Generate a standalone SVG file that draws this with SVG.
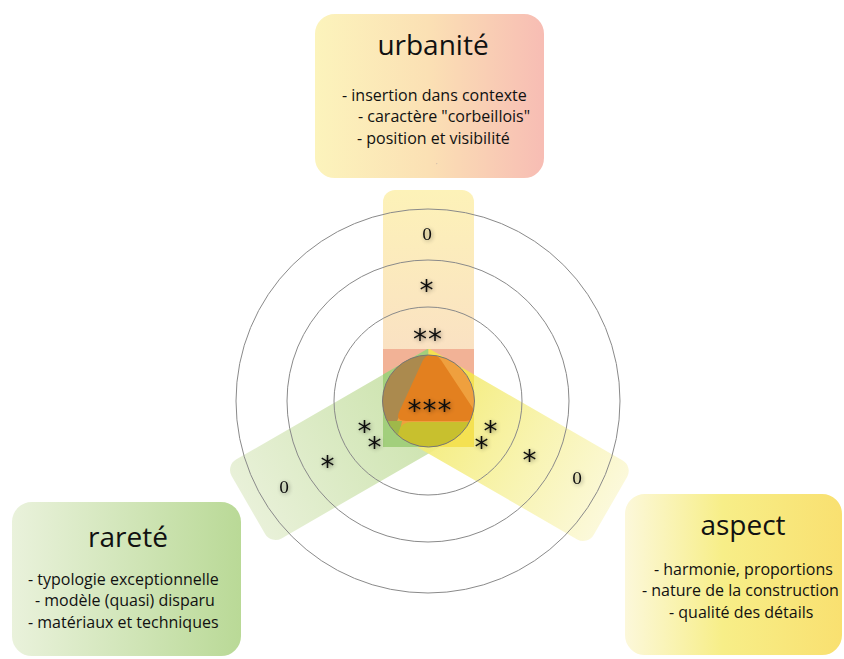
<svg xmlns="http://www.w3.org/2000/svg" width="844" height="659" viewBox="0 0 844 659">
<style>
.ring{fill:none;stroke:#8a8a8a;stroke-width:1}
.rate{font-family:"DejaVu Serif",serif;font-size:16px;fill:#111;text-anchor:middle;filter:url(#sh)}
.ast{font-family:"DejaVu Sans",sans-serif;font-size:28px;fill:#111;text-anchor:middle;letter-spacing:1px;filter:url(#sh)}
.title{font-family:"Open Sans",sans-serif;font-size:28px;fill:#111;text-anchor:middle}
.body{font-family:"Open Sans",sans-serif;font-size:16px;fill:#111}
.box{stroke:#fff;stroke-width:4}
</style>
<defs>
<filter id="sh" x="-50%" y="-50%" width="200%" height="200%">
<feGaussianBlur in="SourceAlpha" stdDeviation="2" result="b"/>
<feOffset dx="1" dy="1" result="o"/>
<feComponentTransfer in="o" result="s"><feFuncA type="linear" slope="0.45"/></feComponentTransfer>
<feMerge><feMergeNode in="s"/><feMergeNode in="SourceGraphic"/></feMerge>
</filter>
<linearGradient id="gUp" x1="0" y1="0" x2="1" y2="0">
<stop offset="0" stop-color="#f9dcc6"/><stop offset="1" stop-color="#fdf2b8"/>
</linearGradient>
<linearGradient id="gGreen" x1="0" y1="0" x2="1" y2="0">
<stop offset="0" stop-color="#c6e0a4"/><stop offset="1" stop-color="#e6efd4"/>
</linearGradient>
<linearGradient id="gYel" x1="0" y1="0" x2="1" y2="0">
<stop offset="0" stop-color="#f3ea6c"/><stop offset="0.5" stop-color="#f7f2a4"/><stop offset="1" stop-color="#fbf8d6"/>
</linearGradient>
<linearGradient id="bTop" x1="0" y1="0" x2="1" y2="0">
<stop offset="0" stop-color="#fcf4bc"/><stop offset="0.5" stop-color="#fbe0b4"/><stop offset="1" stop-color="#f7bcb4"/>
</linearGradient>
<linearGradient id="bLeft" x1="0" y1="0" x2="1" y2="0">
<stop offset="0" stop-color="#eaf2dc"/><stop offset="1" stop-color="#b9d996"/>
</linearGradient>
<linearGradient id="bRight" x1="0" y1="0" x2="1" y2="0">
<stop offset="0" stop-color="#fcf8dc"/><stop offset="0.45" stop-color="#f7ee88"/><stop offset="1" stop-color="#f9e070"/>
</linearGradient>
<clipPath id="sq"><rect x="383" y="349" width="91" height="98"/></clipPath>
<clipPath id="cc"><circle cx="428.5" cy="401" r="46"/></clipPath>
</defs>

<g id="bars">
<rect x="0" y="-45.5" width="211" height="91" rx="12" fill="url(#gUp)" transform="translate(428.5,401) rotate(-90)"/>
<rect x="0" y="-45.5" width="208" height="91" rx="12" fill="url(#gGreen)" fill-opacity="0.9" transform="translate(428.5,401) rotate(150)"/>
<rect x="0" y="-45.5" width="210" height="91" rx="12" fill="url(#gYel)" fill-opacity="0.9" transform="translate(428.5,401) rotate(30)"/>
</g>

<g id="center">
<g clip-path="url(#sq)">
<rect x="383" y="349" width="91" height="98" fill="#f2b296"/>
<polygon points="383,374.5 428.5,348.3 428.5,447 383,447" fill="#a2cf7c"/>
<polygon points="474,374.5 428.5,348.3 428.5,447 474,447" fill="#f4e152"/>
</g>
<g clip-path="url(#cc)">
<rect x="380" y="350" width="100" height="100" fill="#efa03e"/>
<path d="M378,350 L422,350 Q431,353 426,364 L397,421 L378,421 Z" fill="#ab8a4e"/>
<path d="M423,360 Q432,348 441,360 L474,410 Q478,420 466,421 L406,421 Q394,421 400,410 Z" fill="#e3801f"/>
<path d="M378,421 L402,421 L396,450 L378,450 Z" fill="#9fb84a"/>
<path d="M394,450 L399,431 Q401,422 412,422 L480,422 L480,450 Z" fill="#c8c02e"/>
</g>
<circle cx="428.5" cy="401" r="46" fill="none" stroke="#777" stroke-width="1"/>
</g>

<g id="rings">
<circle class="ring" cx="428" cy="401" r="94"/>
<circle class="ring" cx="428" cy="401" r="141"/>
<circle class="ring" cx="428" cy="401" r="192"/>
</g>

<g id="ratings">
<text class="rate" x="427" y="240">0</text>
<text class="ast" x="427" y="300">*</text>
<text class="ast" x="428" y="349">**</text>
<text class="ast" x="430" y="420">***</text>
<text class="rate" x="284" y="493">0</text>
<text class="ast" x="328" y="476">*</text>
<text class="ast"><tspan x="365" y="441">*</tspan><tspan x="375" y="457">*</tspan></text>
<text class="ast"><tspan x="491" y="441">*</tspan><tspan x="482" y="457">*</tspan></text>
<text class="ast" x="530" y="470">*</text>
<text class="rate" x="577" y="484">0</text>
</g>

<g id="urbanite">
<rect class="box" x="313" y="12" width="233" height="168" rx="22" fill="url(#bTop)"/>
<text class="title" x="433" y="55">urbanité</text>
<text class="body" x="342" y="101">- insertion dans contexte</text>
<text class="body" x="358" y="122">- caractère "corbeillois"</text>
<text class="body" x="357" y="144">- position et visibilité</text>
<text x="436" y="164" font-family="Open Sans,sans-serif" font-size="5" fill="#999">,</text>
</g>

<g id="rarete">
<rect class="box" x="10" y="500" width="233" height="158" rx="22" fill="url(#bLeft)"/>
<text class="title" x="128" y="547">rareté</text>
<text class="body" x="28" y="585">- typologie exceptionnelle</text>
<text class="body" x="35" y="606">- modèle (quasi) disparu</text>
<text class="body" x="28" y="628">- matériaux et techniques</text>
</g>

<g id="aspect">
<rect class="box" x="623" y="492" width="221" height="165" rx="22" fill="url(#bRight)"/>
<text class="title" x="743" y="535">aspect</text>
<text class="body" x="654" y="575">- harmonie, proportions</text>
<text class="body" x="642" y="596">- nature de la construction</text>
<text class="body" x="669" y="618">- qualité des détails</text>
</g>
</svg>
